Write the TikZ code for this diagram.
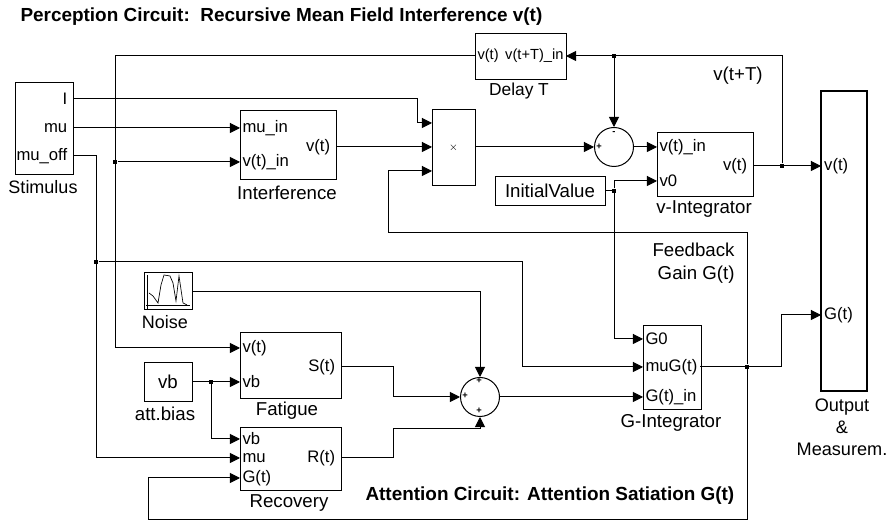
\documentclass[tikz,border=0pt]{standalone}
\usepackage{fontspec}
\setmainfont{Liberation Sans}
\usetikzlibrary{arrows.meta}
\def\pxu{0.75pt}

\begin{document}
\begin{tikzpicture}[x=0.75pt, y=-0.75pt, line width=0.75pt, font=\fontsize{12.5}{15}\selectfont]
    \tikzstyle{block} = [rectangle, draw, inner sep=0pt, font=\fontsize{14}{16}\selectfont]
    \tikzstyle{portin} = [anchor=west, inner sep=1.5pt]
    \tikzstyle{portout} = [anchor=east, inner sep=4pt]
    \tikzstyle{caption} = [inner sep=0pt, font=\fontsize{14}{16}\selectfont]
    \tikzstyle{summer} = [circle, draw, inner sep=0pt, minimum size=39*\pxu]
    \tikzstyle{sgn} = [inner sep=0pt, font=\fontsize{7}{7}\selectfont\bfseries]
    \tikzstyle{title} = [anchor=west, inner sep=0pt, font=\fontsize{14.2}{16}\selectfont\bfseries]
    \tikzstyle{wire} = [-{Triangle[length=7.6pt,width=7.6pt]}]
    \tikzstyle{dot} = [rectangle, fill=black, inner sep=0pt, minimum size=3pt]

    \useasboundingbox (0,0) rectangle (890,523);

    % Titles
    \node[title] (perception) at (20,17) {Perception Circuit:\ \ Recursive Mean Field Interference v(t)};
    \node[title] (attention) at (365,496) {Attention Circuit: Attention Satiation G(t)};

    % Blocks
    \node[block, minimum width=58*\pxu, minimum height=92*\pxu] (stimulus) at (44,129) {};
    \node[block, minimum width=96*\pxu, minimum height=69*\pxu] (interference) at (288,145.5) {};
    \node[block, minimum width=43*\pxu, minimum height=76*\pxu] (mult) at (453.5,148) {\fontsize{8}{8}\selectfont$\times$};
    \node[block, minimum width=91*\pxu, minimum height=46*\pxu] (delay) at (520.5,57) {};
    \node[block, minimum width=96*\pxu, minimum height=64*\pxu] (vint) at (705,165) {};
    \node[block, minimum width=110*\pxu, minimum height=29*\pxu] (initial) at (550,191) {InitialValue};
    \node[block, line width=1.8pt, minimum width=46*\pxu, minimum height=300*\pxu] (output) at (844,241) {};
    \node[block, minimum width=48*\pxu, minimum height=37*\pxu] (noise) at (168,291.5) {};
    \node[block, minimum width=101*\pxu, minimum height=66*\pxu] (fatigue) at (290.5,366) {};
    \node[block, minimum width=48*\pxu, minimum height=39*\pxu] (vb) at (168,382) {vb};
    \node[block, minimum width=101*\pxu, minimum height=63*\pxu] (recovery) at (290.5,459.5) {};
    \node[block, minimum width=58*\pxu, minimum height=84*\pxu] (gint) at (672,368) {};
    \node[summer] (sumv) at (614,147) {};
    \node[summer] (sumg) at (480,397) {};

    % Captions
    \node[caption, font=\fontsize{13.5}{15}\selectfont] (capstim) at (43,187) {Stimulus};
    \node[caption] (capinter) at (287,193) {Interference};
    \node[caption, font=\fontsize{13}{15}\selectfont] (capdelay) at (519,91) {Delay T};
    \node[caption] (capvint) at (704,209) {v-Integrator};
    \node[caption, font=\fontsize{13.5}{15}\selectfont] (capnoise) at (165,322) {Noise};
    \node[caption] (capfat) at (287,411) {Fatigue};
    \node[caption] (capbias) at (165,414) {att.bias};
    \node[caption] (caprec) at (289,503) {Recovery};
    \node[caption] (capgint) at (671,423) {G-Integrator};
    \node[caption, align=center, font=\fontsize{13.6}{15}\selectfont] (capout) at (842,427) {Output\\[1.5pt]\&\\[1.5pt]Measurem.};
    \node[caption] (labdelay) at (738,76) {v(t+T)};
    \node[caption, align=right, anchor=east] (labgain) at (735,263) {Feedback\\[1pt]Gain G(t)};

    % Ports
    \node[portout] (stimI) at (73,99) {I};
    \node[portout] (stimmu) at (73,128) {mu};
    \node[portout] (stimoff) at (73,156) {mu\_off};
    \node[portin] (intermu) at (240,128) {mu\_in};
    \node[portin] (interv) at (240,162) {v(t)\_in};
    \node[portout] (interout) at (336,147) {v(t)};
    \node[portout, inner sep=1.5pt, font=\fontsize{11}{13}\selectfont] (delayin) at (566,56) {v(t+T)\_in};
    \node[portin, font=\fontsize{11}{13}\selectfont] (delayout) at (475,56) {v(t)};
    \node[portin] (vintv) at (657,147) {v(t)\_in};
    \node[portin] (vintz) at (657,181) {v0};
    \node[portout] (vintout) at (753,166) {v(t)};
    \node[portin, inner sep=2pt] (outv) at (821,166) {v(t)};
    \node[portin, inner sep=2pt] (outg) at (821,315) {G(t)};
    \node[portin] (fatv) at (240,348) {v(t)};
    \node[portin] (fatb) at (240,382) {vb};
    \node[portout] (fatout) at (341,367) {S(t)};
    \node[portin] (recb) at (240,439) {vb};
    \node[portin] (recmu) at (240,458) {mu};
    \node[portin] (recg) at (240,478) {G(t)};
    \node[portout] (recout) at (341,458) {R(t)};
    \node[portin] (gintz) at (643,339) {G0};
    \node[portin] (gintmu) at (643,367) {muG(t)};
    \node[portin] (gintg) at (643,397) {G(t)\_in};
    \coordinate (gintout) at (700,367);
    \coordinate (multI) at (432,123);
    \coordinate (multv) at (432,147);
    \coordinate (multg) at (432,171);
    \coordinate (multout) at (475,147);

    % Signs on the summers
    \node[sgn] (sgnva) at (599,147) {+};
    \node[sgn] (sgnvb) at (614,133) {-};
    \node[sgn] (sgnga) at (465,396) {+};
    \node[sgn] (sgngb) at (479,381) {+};
    \node[sgn] (sgngc) at (479,411) {+};

    % Noise scope
    \draw[line width=0.5pt] (147,275.5) -- (147,309);
    \draw[line width=0.5pt] (146,305) -- (190,305);
    \draw[line width=0.5pt] (149,293) -- (153,296) -- (158,303) -- (161,285) -- (164,275) -- (170,276) -- (173,283) -- (176,301) -- (179,276) -- (183,303) -- (187,305);

    % Stimulus wiring
    \draw[wire] (stimI.east) -- (417,99) |- (multI);
    \draw[wire] (stimmu.east) -- (intermu.west);
    \draw[wire] (stimoff.east) -| (96,458) -- (recmu.west);
    \node[dot] (dotoff) at (96,262) {};
    \draw[wire] (dotoff) -- (522,262) |- (gintmu.west);

    % Delay loop
    \draw[wire] (delayout.west) -- (115,56) |- (fatv.west);
    \node[dot] (dotdelay) at (115,162) {};
    \draw[wire] (dotdelay) -- (interv.west);
    \draw[wire] (interout.east) -- (multv);
    \draw[wire] (multout) -- (sumv.west);
    \draw[wire] (sumv.east) -- (vintv.west);
    \draw[wire] (vintout.east) -- (outv.west);
    \node[dot] (dotout) at (782,166) {};
    \draw[wire] (dotout) -- (782,56) -- (delayin.east);
    \node[dot] (dotfb) at (614,56) {};
    \draw[wire] (dotfb) -- (sumv.north);

    % Initial value
    \node[dot] (dotinit) at (614,191) {};
    \draw (initial.east) -- (dotinit);
    \draw[wire] (dotinit) |- (vintz.west);
    \draw[wire] (dotinit) |- (gintz.west);

    % Attention circuit
    \draw[wire] (noise.east) -| (sumg.north);
    \draw[wire] (vb.east) -- (fatb.west);
    \node[dot] (dotvb) at (211,382) {};
    \draw[wire] (dotvb) |- (recb.west);
    \draw[wire] (fatout.east) -- (393,367) |- (sumg.west);
    \draw[wire] (recout.east) -- (393,458) |- (480,429) -- (sumg.south);
    \draw[wire] (sumg.east) -- (gintg.west);

    % Gain feedback
    \node[dot] (dotgain) at (747,367) {};
    \draw[wire] (gintout) -- (781,367) |- (outg.west);
    \draw[wire] (dotgain) -- (747,233) -- (388,233) |- (multg);
    \draw[wire] (dotgain) -- (747,520) -- (148,520) |- (recg.west);
\end{tikzpicture}
\end{document}
